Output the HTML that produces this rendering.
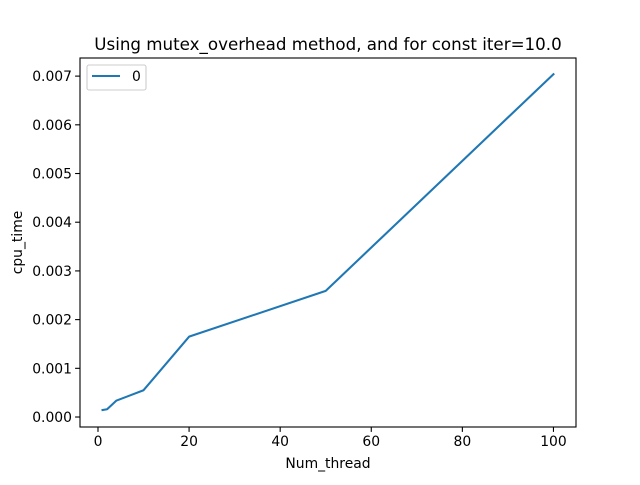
<!DOCTYPE html>
<html><head><meta charset="utf-8"><style>
body{margin:0;background:#fff}
svg text{font-family:"DejaVu Sans","Liberation Sans",sans-serif;fill:#000}
</style></head><body>
<svg id="chart" width="640" height="480" xmlns="http://www.w3.org/2000/svg">
<rect width="640" height="480" fill="#fff"/>
<text x="328" y="50" font-size="16.7" text-anchor="middle">Using mutex_overhead method, and for const iter=10.0</text>
<g id="ticks"></g>
<path id="series" fill="none" stroke="#1f77b4" stroke-width="2.08" stroke-linejoin="round" stroke-linecap="square"/>
<rect x="80" y="58" width="496" height="369" fill="none" stroke="#000" stroke-width="1.1"/>
<text x="328" y="468" font-size="13.9" text-anchor="middle">Num_thread</text>
<text x="22" y="242.5" font-size="13.9" text-anchor="middle" transform="rotate(-90 22 242.5)">cpu_time</text>
<g>
<rect x="87" y="65" width="59" height="25" rx="2" fill="#fff" stroke="#ccc" stroke-width="1.1"/>
<line x1="92" y1="76" x2="120" y2="76" stroke="#1f77b4" stroke-width="2.08"/>
<text x="132" y="81" font-size="13.9">0</text>
</g>
</svg>
<script>
const xs=[1,2,4,10,20,50,100];
const ys=[0.000144,0.00016,0.000335,0.00055,0.00165,0.00259,0.00704];
const xTicks=[0,20,40,60,80,100];
const yTicks=[0,0.001,0.002,0.003,0.004,0.005,0.006,0.007];
const L=80,R=576,T=58,B=427;
const xMin=-3.95,xMax=104.95,yMin=-0.000205,yMax=-0.000205+0.007577;
const sx=v=>L+(v-xMin)/(xMax-xMin)*(R-L);
const sy=v=>B-(v-yMin)/(yMax-yMin)*(B-T);
const NS="http://www.w3.org/2000/svg";
document.getElementById('series').setAttribute('d',xs.map((x,i)=>(i?'L':'M')+sx(x)+','+sy(ys[i])).join(''));
const g=document.getElementById('ticks');
xTicks.forEach(t=>{
 const l=document.createElementNS(NS,'line');
 l.setAttribute('x1',sx(t));l.setAttribute('x2',sx(t));l.setAttribute('y1',B);l.setAttribute('y2',B+4.9);l.setAttribute('stroke','#000');l.setAttribute('stroke-width','1.1');
 
 
 g.appendChild(l);
 const tx=document.createElementNS(NS,'text');
 tx.setAttribute('x',sx(t));tx.setAttribute('y',B+19);tx.setAttribute('font-size','13.9');tx.setAttribute('text-anchor','middle');tx.textContent=t;
 
 
 g.appendChild(tx);
});
yTicks.forEach(t=>{
 const l=document.createElementNS(NS,'line');
 l.setAttribute('x1',L-4.9);l.setAttribute('x2',L);l.setAttribute('y1',sy(t));l.setAttribute('y2',sy(t));l.setAttribute('stroke','#000');l.setAttribute('stroke-width','1.1');
 
 
 g.appendChild(l);
 const tx=document.createElementNS(NS,'text');
 tx.setAttribute('x',L-8);tx.setAttribute('y',sy(t)+5);tx.setAttribute('font-size','13.9');tx.setAttribute('text-anchor','end');tx.textContent=t.toFixed(3);
 
 
 g.appendChild(tx);
});
</script>
</body></html>
